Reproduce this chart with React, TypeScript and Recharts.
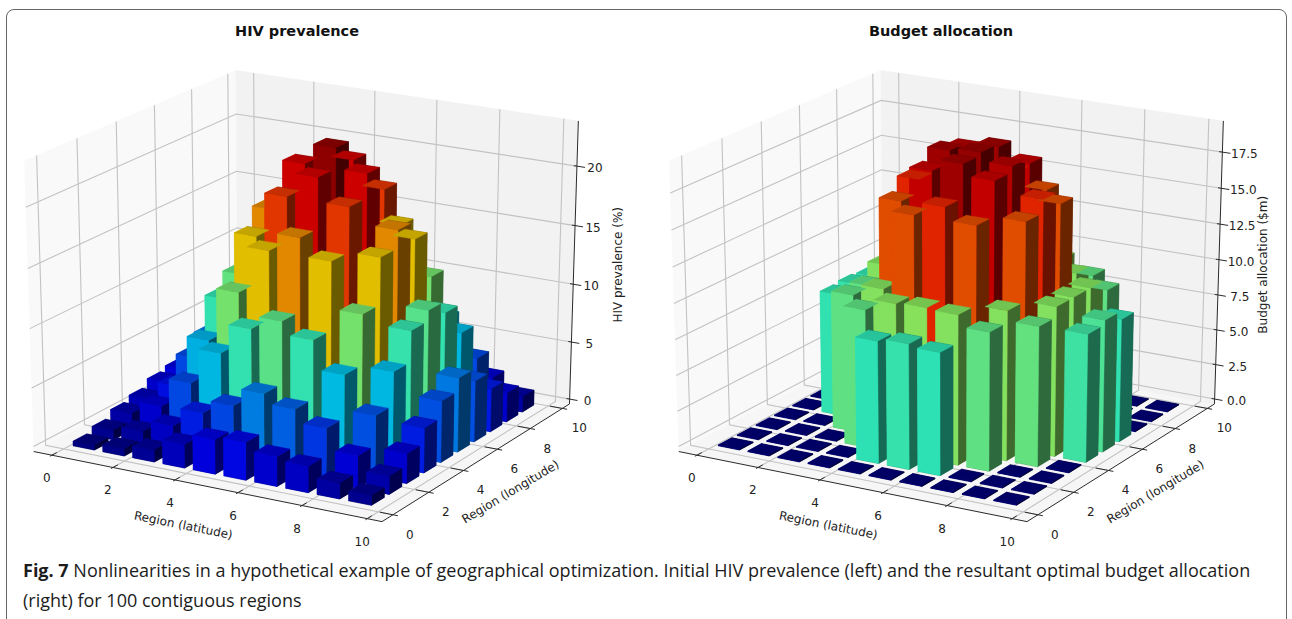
import { ScatterChart, Scatter, XAxis, YAxis } from 'recharts';

// rows are region (longitude) 0..9, columns are region (latitude) 0..9
const prevalenceRows = [
  [0.4, 0.6, 1.0, 2.0, 2.9, 3.2, 2.5, 2.2, 1.3, 0.8],
  [0.8, 1.2, 2.2, 3.8, 4.9, 6.4, 5.6, 4.5, 2.7, 1.5],
  [1.4, 2.5, 5.0, 8.0, 10.5, 11.6, 10.5, 8.1, 5.2, 2.5],
  [1.8, 3.4, 7.8, 12.3, 16.2, 17.7, 16.2, 12.3, 8.0, 3.8],
  [2.4, 5.0, 10.5, 16.2, 19.9, 21.9, 19.9, 16.2, 10.6, 5.2],
  [2.7, 6.1, 11.8, 17.7, 21.9, 23.6, 21.9, 17.7, 11.5, 6.3],
  [2.4, 5.0, 10.5, 16.2, 19.9, 21.9, 19.9, 16.2, 10.5, 5.2],
  [1.8, 3.6, 8.0, 12.3, 16.2, 17.7, 16.2, 12.3, 8.0, 3.7],
  [1.4, 2.5, 5.0, 8.0, 10.5, 11.6, 10.5, 8.0, 5.0, 2.5],
  [0.8, 1.3, 2.5, 3.8, 5.0, 6.1, 5.0, 3.8, 2.5, 1.3],
];

const budgetRows = [
  [0.05, 0.05, 0.05, 0.05, 0.05, 0.05, 0.05, 0.05, 0.05, 0.05],
  [0.05, 0.05, 0.05, 0.05, 8.5, 8.7, 8.5, 0.05, 0.05, 0.05],
  [0.05, 0.05, 0.05, 9.6, 10.4, 10.5, 10.4, 9.6, 0.05, 0.05],
  [0.05, 0.05, 9.6, 10.4, 15.8, 16.7, 15.8, 10.4, 9.7, 0.05],
  [0.05, 8.6, 9.6, 15.8, 18.2, 19.0, 18.2, 15.8, 10.4, 8.9],
  [0.05, 8.7, 10.4, 16.7, 19.0, 19.2, 18.6, 16.7, 10.4, 9.2],
  [0.05, 8.6, 9.6, 15.8, 18.6, 19.0, 18.2, 15.8, 10.4, 8.6],
  [0.05, 0.05, 9.6, 10.4, 15.8, 16.7, 15.8, 10.4, 9.6, 0.05],
  [0.05, 0.05, 0.05, 9.6, 10.4, 10.5, 10.4, 9.6, 0.05, 0.05],
  [0.05, 0.05, 0.05, 0.05, 8.5, 8.7, 8.5, 0.05, 0.05, 0.05],
];

const regionTicks = [0, 2, 4, 6, 8, 10];
const prevalenceTicks = [0, 5, 10, 15, 20];
const budgetTicks = [0, 2.5, 5, 7.5, 10, 12.5, 15, 17.5];

const FONT = 'DejaVu Sans';
const CHART_W = 646;
const CHART_H = 552;
// viewing box -> screen, close to matplotlib's default 3d axes
const KX = 3970;
const KY = 2450;
const CX = 305.8;
const CY = 322.6;
const Z_STRETCH = 1.34;
const BAR_W = 0.7;
const BAR_PITCH = 0.975;
const BAR_DX = 0.32;
const BAR_DY = 0;
const X_LIM = [-0.6, 10.45];
const Y_LIM = [-0.6, 10.45];

type Vec = number[];
type Poly = { pts: Vec[]; fill?: string; stroke?: string; sw?: number };
type Lims = { zMin: number; zMax: number; colorMax: number };

function view(p: Vec, lims: Lims) {
  const px = (p[0] - X_LIM[0]) / (X_LIM[1] - X_LIM[0]) - 0.5;
  const py = (p[1] - Y_LIM[0]) / (Y_LIM[1] - Y_LIM[0]) - 0.5;
  const pn = (p[2] - lims.zMin) / (lims.zMax - lims.zMin);
  const pz = pn * Z_STRETCH - 0.5;
  const w = 10 - (0.433 * px - 0.75 * py + 0.25 * pz);
  // paint order, with less weight on height than the screen projection
  const depth = 0.46 * px - 0.8 * py + 0.39 * pn;
  return { x: (0.866 * px + 0.5 * py) / w, y: (-0.25 * px + 0.433 * py + 0.866 * pz) / w, depth };
}

const clamp = (v: number) => Math.max(0, Math.min(1, v));
function jet(v: number) {
  return [1.5 - Math.abs(4 * v - 3), 1.5 - Math.abs(4 * v - 2), 1.5 - Math.abs(4 * v - 1)].map(clamp);
}
function shade(c: number[], k: number) {
  return `rgb(${c.map((n) => Math.round(n * k * 255)).join(',')})`;
}

// all six faces of every bar sorted together, the way mplot3d paints them
function barFaces(rows: number[][], lims: Lims): Poly[] {
  const faces: { pts: Vec[]; fill: string; depth: number }[] = [];
  rows.forEach((row, j) =>
    row.forEach((h, i) => {
      const x0 = i * BAR_PITCH + BAR_DX;
      const y0 = j * BAR_PITCH + BAR_DY;
      const x1 = x0 + BAR_W;
      const y1 = y0 + BAR_W;
      const c = jet(h / lims.colorMax);
      const sides: [Vec[], number][] = [
        [[[x0, y0, 0], [x1, y0, 0], [x1, y1, 0], [x0, y1, 0]], 0.533],
        [[[x0, y1, 0], [x1, y1, 0], [x1, y1, h], [x0, y1, h]], 0.417],
        [[[x0, y0, 0], [x0, y1, 0], [x0, y1, h], [x0, y0, h]], 0.883],
        [[[x1, y0, 0], [x1, y1, 0], [x1, y1, h], [x1, y0, h]], 0.417],
        [[[x0, y0, 0], [x1, y0, 0], [x1, y0, h], [x0, y0, h]], 0.883],
        [[[x0, y0, h], [x1, y0, h], [x1, y1, h], [x0, y1, h]], 0.767],
      ];
      sides.forEach(([pts, k]) => {
        const depth = pts.reduce((s, p) => s + view(p, lims).depth, 0) / 4;
        faces.push({ pts, fill: shade(c, k), depth });
      });
    }),
  );
  return faces.sort((a, b) => a.depth - b.depth);
}

function panes(lims: Lims): Poly[] {
  const [x0, x1] = X_LIM;
  const [y0, y1] = Y_LIM;
  const { zMin: z0, zMax: z1 } = lims;
  return [
    { pts: [[x0, y0, z0], [x0, y1, z0], [x0, y1, z1], [x0, y0, z1]], fill: '#f9f9f9' },
    { pts: [[x0, y1, z0], [x1, y1, z0], [x1, y1, z1], [x0, y1, z1]], fill: '#f2f2f2' },
    { pts: [[x0, y0, z0], [x1, y0, z0], [x1, y1, z0], [x0, y1, z0]], fill: '#f6f6f6' },
  ];
}

function gridLines(zTicks: number[], lims: Lims): Poly[] {
  const [x0, x1] = X_LIM;
  const [y0, y1] = Y_LIM;
  const { zMin: z0, zMax: z1 } = lims;
  const line = (pts: Vec[]): Poly => ({ pts, stroke: '#c2c2c2', sw: 1.1 });
  return [
    ...regionTicks.map((t) => line([[t, y0, z0], [t, y1, z0], [t, y1, z1]])),
    ...regionTicks.map((t) => line([[x0, t, z1], [x0, t, z0], [x1, t, z0]])),
    ...zTicks.map((t) => line([[x0, y0, t], [x0, y1, t], [x1, y1, t]])),
  ];
}

function axisLines(zTicks: number[], lims: Lims): Poly[] {
  const [x0, x1] = X_LIM;
  const [y0, y1] = Y_LIM;
  const { zMin: z0, zMax: z1 } = lims;
  const line = (pts: Vec[]): Poly => ({ pts, stroke: '#2b2b2b', sw: 1 });
  return [
    line([[x0, y0, z0], [x1, y0, z0], [x1, y1, z0], [x1, y1, z1]]),
    ...regionTicks.map((t) => line([[t, y0 + 0.25, z0], [t, y0 - 0.1, z0]])),
    ...regionTicks.map((t) => line([[x1 - 0.4, t, z0], [x1 + 0.15, t, z0]])),
    ...zTicks.map((t) => line([[x1 - 0.1, y1, t], [x1 + 0.25, y1, t]])),
  ];
}

type Label = { x: number; y: number; text: string; dx: number; dy: number; rot?: number };

function axisTexts(zTicks: number[], zText: (t: number) => string, zLabel: string, zDx: number, lims: Lims) {
  const at = (p: Vec, text: string, dx: number, dy: number, rot = 0): Label => {
    const v = view(p, lims);
    return { x: v.x, y: v.y, text, dx, dy, rot };
  };
  const zMid = (lims.zMin + lims.zMax) / 2;
  return [
    ...regionTicks.map((t) => at([t, Y_LIM[0], lims.zMin], String(t), -5, 23)),
    ...regionTicks.map((t) => at([X_LIM[1], t, lims.zMin], String(t), 17, 20)),
    ...zTicks.map((t) => at([X_LIM[1], Y_LIM[1], t], zText(t), zDx, 2)),
    at([5, Y_LIM[0], lims.zMin], 'Region (latitude)', -23, 39, 11.5),
    at([X_LIM[1], 5, lims.zMin], 'Region (longitude)', 30, 32, -31),
    at([X_LIM[1], Y_LIM[1], zMid], zLabel, 44, 0, -90),
  ];
}

function polySeries(name: string, polys: Poly[]) {
  const data = polys.flatMap((p) => p.pts);
  const drawPolys = (props: any) => {
    const pixels = props.points as { x: number; y: number }[];
    let n = 0;
    return (
      <g key={name}>
        {polys.map((p, k) => {
          const part = pixels.slice(n, n + p.pts.length);
          n += p.pts.length;
          const d = part.map((q) => `${q.x},${q.y}`).join(' ');
          return p.fill ? (
            <polygon key={k} points={d} fill={p.fill} stroke={p.fill} strokeWidth={0.4} />
          ) : (
            <polyline key={k} points={d} fill="none" stroke={p.stroke} strokeWidth={p.sw} />
          );
        })}
      </g>
    );
  };
  return <Scatter key={name} name={name} data={data} line={drawPolys} shape={() => <g />} isAnimationActive={false} />;
}

function Panel({ rows, zTicks, zText, zLabel, zDx, lims, left }: any) {
  const toPoint = (p: Vec) => {
    const v = view(p, lims);
    return { x: v.x, y: v.y };
  };
  const project = (polys: Poly[]) => polys.map((p) => ({ ...p, pts: p.pts.map(toPoint) as any }));
  const texts = axisTexts(zTicks, zText, zLabel, zDx, lims);
  return (
    <div style={{ position: 'absolute', left, top: 0 }}>
      <ScatterChart width={CHART_W} height={CHART_H} margin={{ top: 0, right: 0, bottom: 0, left: 0 }}>
        <XAxis type="number" dataKey="x" hide domain={[-CX / KX, (CHART_W - CX) / KX]} allowDataOverflow />
        <YAxis type="number" dataKey="y" hide domain={[(CY - CHART_H) / KY, CY / KY]} allowDataOverflow />
        {polySeries('panes', project(panes(lims)))}
        {polySeries('grid', project(gridLines(zTicks, lims)))}
        {polySeries('axes', project(axisLines(zTicks, lims)))}
        {polySeries('bars', project(barFaces(rows, lims)))}
        <Scatter
          name="labels"
          data={texts}
          isAnimationActive={false}
          shape={(p: any) => {
            const t = p.payload as Label;
            const px = p.cx + t.dx;
            const py = p.cy + t.dy;
            return (
              <text
                x={px}
                y={py}
                textAnchor="middle"
                dominantBaseline="central"
                fontFamily={FONT}
                fontSize={12}
                fill="#222"
                transform={t.rot ? `rotate(${t.rot} ${px} ${py})` : undefined}
              >
                {t.text}
              </text>
            );
          }}
        />
      </ScatterChart>
    </div>
  );
}

const titleStyle = {
  position: 'absolute',
  top: 23,
  width: 300,
  textAlign: 'center',
  fontFamily: FONT,
  fontWeight: 'bold',
  fontSize: 14.5,
  color: '#111',
} as const;

export default function App() {
  return (
    <div style={{ position: 'absolute', left: 0, top: 0, width: 1292, height: 619, overflow: 'hidden', background: '#fff' }}>
      <div
        style={{
          position: 'absolute',
          left: 6,
          top: 9,
          width: 1279,
          height: 640,
          border: '1px solid #666',
          borderRadius: 8,
        }}
      />
      <Panel
        rows={prevalenceRows}
        zTicks={prevalenceTicks}
        zText={(t: number) => String(t)}
        zLabel="HIV prevalence (%)"
        zDx={18}
        lims={{ zMin: -0.43, zMax: 23.76, colorMax: 24.4 }}
        left={0}
      />
      <Panel
        rows={budgetRows}
        zTicks={budgetTicks}
        zText={(t: number) => t.toFixed(1)}
        zLabel="Budget allocation ($m)"
        zDx={22}
        lims={{ zMin: -0.36, zMax: 19.64, colorMax: 20 }}
        left={645}
      />
      <div style={{ ...titleStyle, left: 147 }}>HIV prevalence</div>
      <div style={{ ...titleStyle, left: 791 }}>Budget allocation</div>
      <div
        style={{
          position: 'absolute',
          left: 23,
          top: 555,
          width: 1240,
          fontFamily: 'Open Sans',
          fontSize: 18,
          lineHeight: '30px',
          color: '#1c1c1c',
        }}
      >
        <b>Fig. 7</b> Nonlinearities in a hypothetical example of geographical optimization. Initial HIV prevalence (left) and the resultant optimal budget allocation (right) for 100 contiguous regions
      </div>
    </div>
  );
}
